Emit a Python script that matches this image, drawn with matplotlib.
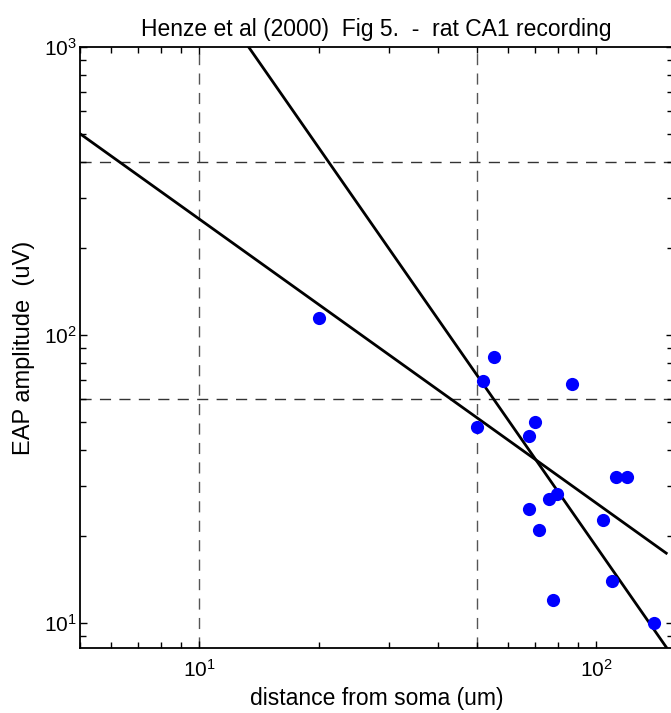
import numpy as np
from matplotlib import pyplot as plt
from matplotlib.ticker import LogLocator, NullFormatter

plt.rcParams['font.family'] = ['Liberation Sans', 'DejaVu Sans']
plt.rcParams['mathtext.default'] = 'regular'

# recorded spikes: distance from soma (um) and EAP amplitude (uV)
distance = [20.0, 55.1, 51.8, 86.9, 50.1, 70.0, 67.8, 112.0, 119.8,
            79.7, 75.8, 67.8, 104.2, 71.9, 109.6, 77.7, 140.1]
amplitude = [115.0, 84.0, 69.3, 67.9, 48.1, 49.8, 44.6, 32.1, 32.1,
             28.1, 27.0, 24.9, 22.9, 21.0, 14.0, 12.0, 10.0]

# the two fitted power-law curves (end points on log-log axes)
fit1_x = [5.0, 150.0]
fit1_y = [500.0, 17.5]
fit2_x = [13.3, 150.5]
fit2_y = [1000.0, 8.2]

# reference lines
vlines = [10, 50]
hlines = [400, 60]

fig = plt.figure(figsize=(6.71, 7.13), dpi=100)
ax = fig.add_axes([80 / 671, 65 / 713, 593 / 671, 601 / 713])
ax.set_xscale('log')
ax.set_yscale('log')

for v in vlines:
    ax.axvline(v, color='#555555', lw=1.0, dashes=(8, 6), zorder=1)
for h in hlines:
    ax.axhline(h, color='#333333', lw=1.0, dashes=(8, 6), zorder=1)

ax.plot(fit1_x, fit1_y, color='black', lw=2.0, zorder=2)
ax.plot(fit2_x, fit2_y, color='black', lw=2.0, zorder=2)
ax.plot(distance, amplitude, 'o', color='#0000ff', ms=9.5, mec='none', zorder=3)

ax.set_xlim(5, 156)
ax.set_ylim(8.2, 1000)

ax.xaxis.set_major_locator(LogLocator(base=10))
ax.yaxis.set_major_locator(LogLocator(base=10))
ax.xaxis.set_minor_locator(LogLocator(base=10, subs=np.arange(2, 10)))
ax.yaxis.set_minor_locator(LogLocator(base=10, subs=np.arange(2, 10)))
ax.xaxis.set_minor_formatter(NullFormatter())
ax.yaxis.set_minor_formatter(NullFormatter())

ax.tick_params(which='both', direction='in', top=True, right=True,
               width=1.0, color='black', labelsize=15)
ax.tick_params(which='major', length=5)
ax.tick_params(which='minor', length=4)
ax.tick_params(axis='x', pad=8)
ax.tick_params(axis='y', pad=2)
for s in ax.spines.values():
    s.set_linewidth(1.3)

ax.set_title('Henze et al (2000)  Fig 5.  -  rat CA1 recording', fontsize=16.5, pad=8)
ax.set_xlabel('distance from soma (um)', fontsize=16.5, labelpad=4)
ax.set_ylabel('EAP amplitude  (uV)', fontsize=17, labelpad=7)

fig.savefig('out.png', dpi=100)
